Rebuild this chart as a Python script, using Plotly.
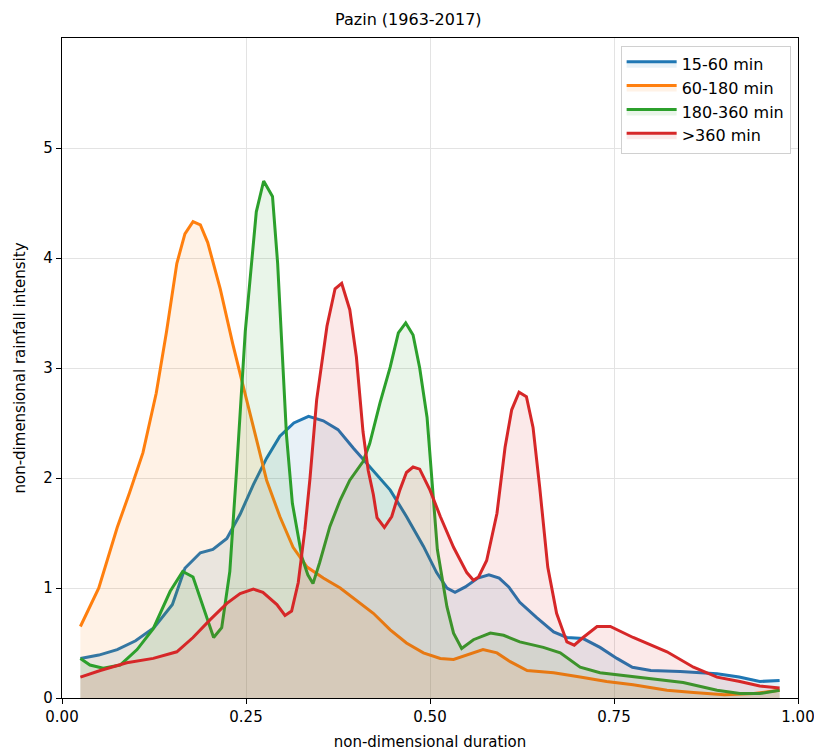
import plotly.graph_objects as go

# 15-60 min
x_blue = [0.025, 0.05, 0.075, 0.10, 0.125, 0.15, 0.167, 0.188, 0.205, 0.224, 0.242, 0.26, 0.278, 0.296,
          0.315, 0.335, 0.355, 0.375, 0.396, 0.423, 0.446, 0.468, 0.491, 0.509, 0.523, 0.534, 0.548,
          0.565, 0.58, 0.594, 0.607, 0.622, 0.645, 0.668, 0.686, 0.708, 0.731, 0.754, 0.775, 0.80,
          0.84, 0.89, 0.92, 0.948, 0.975]
y_blue = [0.36, 0.39, 0.44, 0.52, 0.64, 0.85, 1.18, 1.32, 1.35, 1.45, 1.67, 1.94, 2.18, 2.38,
          2.50, 2.56, 2.52, 2.44, 2.27, 2.07, 1.89, 1.65, 1.38, 1.14, 1.00, 0.96, 1.01,
          1.09, 1.12, 1.09, 1.01, 0.87, 0.73, 0.60, 0.55, 0.54, 0.46, 0.36, 0.28, 0.25,
          0.24, 0.22, 0.19, 0.15, 0.16]

# 60-180 min
x_orange = [0.025, 0.05, 0.075, 0.092, 0.11, 0.128, 0.142, 0.156, 0.167, 0.178, 0.188, 0.198, 0.215,
            0.232, 0.246, 0.264, 0.278, 0.296, 0.314, 0.333, 0.355, 0.378, 0.40, 0.423, 0.446, 0.468,
            0.491, 0.514, 0.532, 0.55, 0.572, 0.591, 0.609, 0.632, 0.668, 0.704, 0.74, 0.776, 0.822,
            0.858, 0.90, 0.94, 0.975]
y_orange = [0.65, 1.00, 1.55, 1.87, 2.23, 2.77, 3.33, 3.95, 4.22, 4.33, 4.30, 4.14, 3.72,
            3.22, 2.84, 2.36, 1.98, 1.65, 1.37, 1.19, 1.09, 1.00, 0.89, 0.77, 0.62, 0.50,
            0.41, 0.36, 0.35, 0.39, 0.44, 0.41, 0.33, 0.25, 0.23, 0.19, 0.15, 0.12, 0.07,
            0.05, 0.03, 0.04, 0.07]

# 180-360 min
x_green = [0.025, 0.038, 0.056, 0.079, 0.102, 0.124, 0.147, 0.164, 0.178, 0.192, 0.206, 0.217, 0.228,
           0.237, 0.249, 0.264, 0.274, 0.286, 0.293, 0.305, 0.313, 0.326, 0.334, 0.341, 0.35, 0.364,
           0.378, 0.391, 0.409, 0.418, 0.432, 0.446, 0.457, 0.467, 0.477, 0.486, 0.496, 0.503, 0.51,
           0.523, 0.532, 0.543, 0.559, 0.582, 0.60, 0.622, 0.654, 0.677, 0.704, 0.731, 0.758, 0.799,
           0.844, 0.89, 0.921, 0.948, 0.975]
y_green = [0.36, 0.30, 0.27, 0.30, 0.44, 0.63, 0.97, 1.15, 1.10, 0.83, 0.55, 0.64, 1.15,
           2.05, 3.33, 4.42, 4.70, 4.56, 3.95, 2.39, 1.77, 1.28, 1.12, 1.04, 1.23, 1.56,
           1.80, 1.98, 2.15, 2.31, 2.68, 3.01, 3.32, 3.41, 3.30, 3.00, 2.55, 1.95, 1.35,
           0.83, 0.59, 0.45, 0.53, 0.59, 0.57, 0.51, 0.46, 0.41, 0.28, 0.23, 0.21, 0.18,
           0.14, 0.07, 0.04, 0.04, 0.07]

# >360 min
x_red = [0.025, 0.052, 0.088, 0.124, 0.156, 0.178, 0.201, 0.224, 0.242, 0.26, 0.273, 0.292, 0.303,
         0.312, 0.321, 0.33, 0.337, 0.346, 0.36, 0.371, 0.38, 0.391, 0.40, 0.409, 0.416, 0.423,
         0.428, 0.438, 0.448, 0.459, 0.468, 0.477, 0.486, 0.50, 0.514, 0.532, 0.55, 0.559, 0.566,
         0.577, 0.591, 0.602, 0.611, 0.621, 0.631, 0.64, 0.649, 0.66, 0.672, 0.686, 0.696, 0.708,
         0.727, 0.745, 0.776, 0.822, 0.858, 0.89, 0.921, 0.948, 0.975]
y_red = [0.19, 0.25, 0.32, 0.36, 0.42, 0.55, 0.71, 0.86, 0.95, 0.99, 0.96, 0.85, 0.75,
         0.79, 1.05, 1.53, 2.00, 2.71, 3.38, 3.72, 3.77, 3.53, 3.10, 2.42, 2.07, 1.85,
         1.64, 1.55, 1.65, 1.89, 2.05, 2.10, 2.08, 1.89, 1.65, 1.37, 1.14, 1.07, 1.10,
         1.25, 1.68, 2.28, 2.62, 2.78, 2.74, 2.46, 1.92, 1.19, 0.77, 0.51, 0.48, 0.55,
         0.65, 0.65, 0.55, 0.42, 0.28, 0.19, 0.15, 0.11, 0.09]

series_names = ["15-60 min", "60-180 min", "180-360 min", ">360 min"]
series_colors = ["#1f77b4", "#ff7f0e", "#2ca02c", "#d62728"]
fill_colors = ["rgba(31,119,180,0.1)", "rgba(255,127,14,0.1)", "rgba(44,160,44,0.1)", "rgba(214,39,40,0.1)"]

x_ticks = [0.0, 0.25, 0.5, 0.75, 1.0]
x_tick_text = ["0.00", "0.25", "0.50", "0.75", "1.00"]
y_ticks = [0, 1, 2, 3, 4, 5]

fig = go.Figure()
for xs, ys, name, col, fcol in zip([x_blue, x_orange, x_green, x_red],
                                   [y_blue, y_orange, y_green, y_red],
                                   series_names, series_colors, fill_colors):
    fig.add_trace(go.Scatter(x=xs, y=ys, name=name, mode="lines",
                             line=dict(color=col, width=3),
                             fill="tozeroy", fillcolor=fcol))

axis_common = dict(showline=True, mirror=True, linecolor="black", linewidth=1.2,
                   ticks="outside", ticklen=5, tickcolor="black", tickwidth=1.2,
                   showgrid=True, gridcolor="#e3e3e3", gridwidth=1, zeroline=False,
                   tickfont=dict(family="DejaVu Sans", size=15, color="black"))

fig.update_layout(
    width=822, height=755,
    paper_bgcolor="white", plot_bgcolor="white",
    margin=dict(l=54, r=32, t=30, b=65, autoexpand=False),
    title=dict(text="Pazin (1963-2017)", x=0.487, xref="container", y=0.985, yref="container",
               xanchor="center", yanchor="middle",
               font=dict(family="DejaVu Sans", size=16, color="black")),
    font=dict(family="DejaVu Sans", color="black"),
    xaxis=dict(range=[0, 1], tickvals=x_ticks, ticktext=x_tick_text,
               title=dict(text="non-dimensional duration", font=dict(size=15), standoff=11),
               **axis_common),
    yaxis=dict(range=[0, 6], tickvals=y_ticks,
               title=dict(text="non-dimensional rainfall intensity", font=dict(size=15), standoff=14),
               **axis_common),
    legend=dict(x=0.99, y=0.988, xanchor="right", yanchor="top",
                bgcolor="white", bordercolor="#d0d0d0", borderwidth=1,
                font=dict(family="DejaVu Sans", size=16, color="black"),
                itemwidth=50, tracegroupgap=2),
    showlegend=True,
)

fig.write_html("out.html")
